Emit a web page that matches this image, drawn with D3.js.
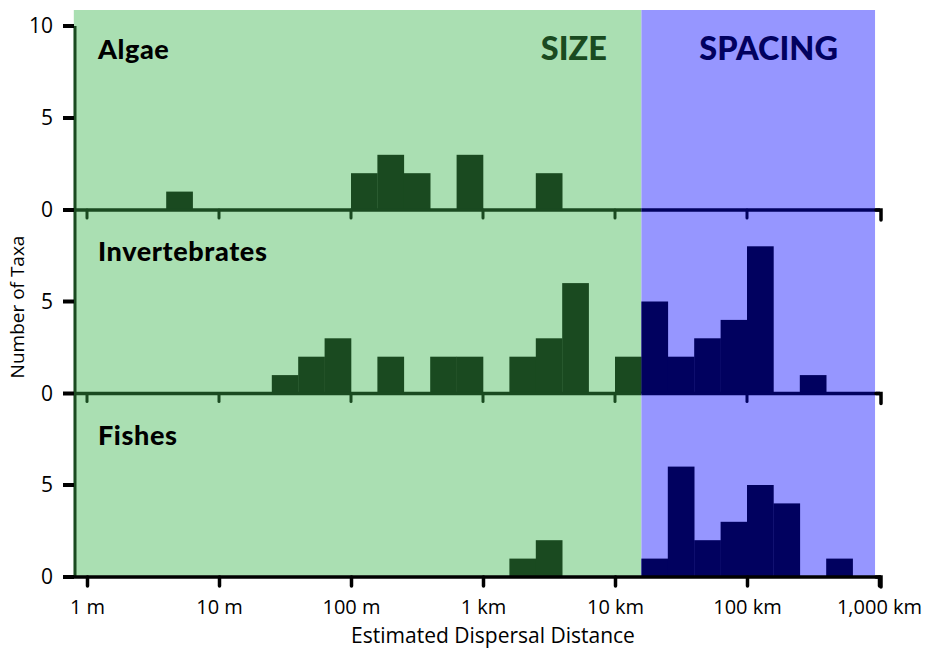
<!DOCTYPE html>
<html>
<head>
<meta charset="utf-8">
<script src="https://cdn.jsdelivr.net/npm/d3@7"></script>
<style>
  html, body { margin: 0; padding: 0; background: #ffffff; }
  svg { display: block; }
</style>
</head>
<body>
<svg id="chart" width="927" height="651"></svg>
<script>
// ---------- data ----------
// histogram bins: 0.2 log10 units wide, from 1 m (10^0) to 1,000 km (10^6)
const binStartsLog = d3.range(0, 30).map(i => +(i * 0.2).toFixed(1));
const binWidthLog = 0.2;
const taxa = ["Algae", "Invertebrates", "Fishes"];
const algaeCounts = [0,0,0,1,0,0,0,0,0,0, 2,3,2,0,3,0,0,2,0,0, 0,0,0,0,0,0,0,0,0,0];
const invertebrateCounts = [0,0,0,0,0,0,0,1,2,3, 0,2,0,2,2,0,2,3,6,0, 2,5,2,3,4,8,0,1,0,0];
const fishCounts = [0,0,0,0,0,0,0,0,0,0, 0,0,0,0,0,0,1,2,0,0, 0,1,6,2,3,5,4,0,1,0];
const seriesCounts = [algaeCounts, invertebrateCounts, fishCounts];
const xTickValues = [1, 10, 100, 1000, 10000, 100000, 1000000];
const xTickLabels = ["1 m", "10 m", "100 m", "1 km", "10 km", "100 km", "1,000 km"];
const yTickValues = [0, 5, 10];
const regionNames = ["SIZE", "SPACING"];
const regionFromLog = [-0.1, 4.2];
const regionToLog = [4.2, 5.97];
const spacingThresholdLog = 4.2;

// ---------- styles ----------
const C = {
  green: "#aadfb2",
  blue: "#9696ff",
  darkGreen: "#1a4a20",
  navy: "#01015f",
  black: "#000000"
};

const svg = d3.select("#chart");
const x = d3.scaleLog().domain([1, 1e6]).range([87, 879]);
const xl = v => x(Math.pow(10, v));
const bases = [210, 393.5, 577];
const panelH = 184;
const yScales = bases.map(b => d3.scaleLinear().domain([0, 10]).range([b, b - panelH]));
const topY = 10;
const leftX = 75;
const endX = 881;

// background regions
const regionColors = [C.green, C.blue];
svg.selectAll("rect.region").data(regionNames).enter().append("rect")
  .attr("class", "region")
  .attr("x", (d, i) => xl(regionFromLog[i]))
  .attr("width", (d, i) => xl(regionToLog[i]) - xl(regionFromLog[i]))
  .attr("y", topY)
  .attr("height", bases[2] - topY)
  .attr("fill", (d, i) => regionColors[i]);

const thresholdX = xl(spacingThresholdLog);

// bars
seriesCounts.forEach((counts, k) => {
  const y = yScales[k];
  const data = counts.map((c, i) => ({ start: binStartsLog[i], count: c })).filter(d => d.count > 0);
  svg.append("g").selectAll("rect").data(data).enter().append("rect")
    .attr("x", d => xl(d.start))
    .attr("width", d => xl(d.start + binWidthLog) - xl(d.start) + 0.3)
    .attr("y", d => y(d.count))
    .attr("height", d => y(0) - y(d.count))
    .attr("fill", d => d.start >= spacingThresholdLog - 1e-9 ? C.navy : C.darkGreen);
});

// baselines of upper panels with small decade ticks
[0, 1].forEach(k => {
  const b = bases[k];
  const g = svg.append("g");
  g.append("line").attr("x1", leftX).attr("x2", thresholdX).attr("y1", b).attr("y2", b)
    .attr("stroke", C.darkGreen).attr("stroke-width", 3.5);
  g.append("line").attr("x1", thresholdX).attr("x2", endX - 1).attr("y1", b).attr("y2", b)
    .attr("stroke", C.navy).attr("stroke-width", 3.5);
  g.selectAll("line.mt").data(xTickValues.slice(0, 6)).enter().append("line")
    .attr("x1", d => x(d)).attr("x2", d => x(d))
    .attr("y1", b).attr("y2", b + 8)
    .attr("stroke", d => x(d) < thresholdX ? C.darkGreen : C.navy)
    .attr("stroke-width", 3).attr("stroke-linecap", "round");
  g.append("path")
    .attr("d", `M${endX - 5},${b} H${endX} V${b + 10}`)
    .attr("fill", "none").attr("stroke", C.black).attr("stroke-width", 3.5)
    .attr("stroke-linecap", "round");
});

// left vertical axis line
svg.append("line").attr("x1", leftX).attr("x2", leftX).attr("y1", yScales[0](10)).attr("y2", bases[2])
  .attr("stroke", C.darkGreen).attr("stroke-width", 3);

// y ticks and labels
yScales.forEach((y, k) => {
  const vals = k === 0 ? yTickValues : yTickValues.slice(0, 2);
  const g = svg.append("g");
  g.selectAll("line").data(vals).enter().append("line")
    .attr("x1", 63).attr("x2", leftX - 1)
    .attr("y1", d => y(d)).attr("y2", d => y(d))
    .attr("stroke", C.black).attr("stroke-width", 4);
  g.selectAll("text").data(vals).enter().append("text")
    .attr("x", 53).attr("y", d => y(d))
    .attr("dy", "0.35em")
    .attr("text-anchor", "end")
    .attr("font-family", "'Open Sans', sans-serif")
    .attr("font-size", 21)
    .attr("fill", C.black)
    .text(d => d);
});

// bottom x axis
const xAxis = d3.axisBottom(x).tickValues(xTickValues).tickFormat((d, i) => xTickLabels[i]).tickSize(10).tickSizeOuter(0);
const axG = svg.append("g").attr("transform", `translate(0,${bases[2]})`).call(xAxis);
axG.select(".domain").remove();
axG.selectAll(".tick line").attr("stroke", C.black).attr("stroke-width", 3.5).attr("stroke-linecap", "round")
  .attr("y1", 0).attr("y2", 9);
axG.selectAll(".tick text")
  .attr("y", 30).attr("dy", "0.35em")
  .attr("font-family", "'Open Sans', sans-serif")
  .attr("font-size", 20).attr("fill", C.black);
svg.append("line").attr("x1", 63).attr("x2", endX).attr("y1", bases[2]).attr("y2", bases[2])
  .attr("stroke", C.black).attr("stroke-width", 3.5);
svg.append("path")
  .attr("d", `M${endX - 5},${bases[2]} H${endX} V${bases[2] + 10}`)
  .attr("fill", "none").attr("stroke", C.black).attr("stroke-width", 3.5)
  .attr("stroke-linecap", "round");

// panel titles
const titleY = [50, 252, 436];
svg.selectAll("text.taxon").data(taxa).enter().append("text")
  .attr("class", "taxon")
  .attr("x", 98).attr("y", (d, i) => titleY[i])
  .attr("dy", "0.35em")
  .attr("font-family", "Lato, sans-serif")
  .attr("font-weight", 900)
  .attr("font-size", 27)
  .attr("letter-spacing", 0.6)
  .attr("fill", C.black)
  .text(d => d);

// region labels
const regionLabelX = [607, 838];
const regionLabelColors = [C.darkGreen, C.navy];
svg.selectAll("text.region").data(regionNames).enter().append("text")
  .attr("class", "region")
  .attr("x", (d, i) => regionLabelX[i]).attr("y", 49)
  .attr("dy", "0.35em")
  .attr("text-anchor", "end")
  .attr("font-family", "Lato, sans-serif")
  .attr("font-weight", 900)
  .attr("font-size", 32.5)
  .attr("fill", (d, i) => regionLabelColors[i])
  .text(d => d);

// axis titles
svg.append("text")
  .attr("transform", "translate(17,307) rotate(-90)")
  .attr("text-anchor", "middle")
  .attr("dy", "0.35em")
  .attr("font-family", "'Open Sans', sans-serif")
  .attr("font-size", 19)
  .attr("fill", C.black)
  .text("Number of Taxa");
svg.append("text")
  .attr("x", 493).attr("y", 636)
  .attr("text-anchor", "middle")
  .attr("dy", "0.35em")
  .attr("font-family", "'Open Sans', sans-serif")
  .attr("font-size", 21)
  .attr("fill", C.black)
  .text("Estimated Dispersal Distance");
</script>
</body>
</html>
